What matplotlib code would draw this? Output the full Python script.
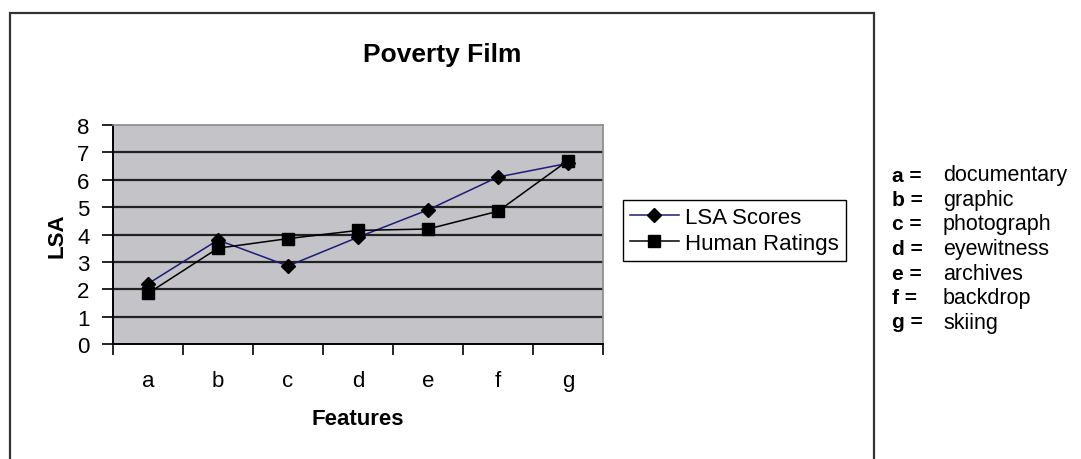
import matplotlib.pyplot as plt
import numpy as np
from matplotlib.patches import Rectangle

plt.rcParams["font.family"] = ["Liberation Sans", "DejaVu Sans"]

features = ["a", "b", "c", "d", "e", "f", "g"]
lsa_scores = [2.2, 3.8, 2.85, 3.9, 4.9, 6.1, 6.6]
human_ratings = [1.85, 3.5, 3.85, 4.15, 4.2, 4.85, 6.7]

feature_names = ["documentary", "graphic", "photograph", "eyewitness",
                 "archives", "backdrop", "skiing"]

W, H = 1081, 460
fig = plt.figure(figsize=(W / 100, H / 100), dpi=100)


def fx(px):
    return px / W


def fy(py):
    return 1 - py / H


# chart frame (open at the bottom, runs off the page)
frame = Rectangle((fx(10), -0.2), fx(874) - fx(10), fy(14) + 0.2,
                  transform=fig.transFigure, fill=False,
                  edgecolor="#333333", linewidth=1.6)
fig.add_artist(frame)

ax = fig.add_axes([fx(113), fy(345), fx(603) - fx(113), fy(126) - fy(345)])
ax.set_facecolor("#c4c3c8")

x = np.arange(len(features))
ax.plot(x, lsa_scores, color="#1c1c78", linewidth=1.1, marker="D",
        markersize=7.5, markerfacecolor="black", markeredgecolor="black",
        label="LSA Scores", zorder=3)
ax.plot(x, human_ratings, color="black", linewidth=1.1, marker="s",
        markersize=8, markerfacecolor="black", markeredgecolor="black",
        label="Human Ratings", zorder=3)

ax.set_xlim(-0.5, len(features) - 0.5)
ax.set_ylim(0, 8)
ax.set_yticks(range(0, 9))
for yv in range(1, 8):
    ax.axhline(yv, color="#222222", linewidth=1.6, zorder=1)

# category labels centred, ticks on category boundaries
ax.set_xticks(x)
ax.set_xticklabels(features)
ax.set_xticks(np.arange(-0.5, len(features)), minor=True)
ax.tick_params(axis="x", which="major", length=0, pad=19, labelsize=16)
ax.tick_params(axis="x", which="minor", length=8, width=1.2, direction="out",
               color="black")
ax.tick_params(axis="y", length=8, width=1.2, direction="out", pad=9,
               labelsize=16)

for side in ("top", "right"):
    ax.spines[side].set_color("#8a8a8a")
    ax.spines[side].set_linewidth(1.2)
for side in ("left", "bottom"):
    ax.spines[side].set_color("black")
    ax.spines[side].set_linewidth(1.4)

ax.set_xlabel("Features", fontsize=16, fontweight="bold", labelpad=12)
ax.set_ylabel("LSA", fontsize=16, fontweight="bold", labelpad=7)

fig.text(fx(442), fy(55), "Poverty Film", ha="center", va="center",
         fontsize=19, fontweight="bold")

leg = ax.legend(loc="upper left", bbox_to_anchor=(fx(623), fy(201)),
                bbox_transform=fig.transFigure, fontsize=16,
                fancybox=False, framealpha=1, edgecolor="black",
                borderpad=0.3, borderaxespad=0, handlelength=2.2,
                handletextpad=0.3, labelspacing=0.25)
leg.get_frame().set_linewidth(1.0)

# key to the feature letters
for i, (letter, name) in enumerate(zip(features, feature_names)):
    y = fy(176 + i * 24.5)
    fig.text(fx(892), y, f"{letter} =", fontsize=15, fontweight="bold",
             va="center")
    fig.text(fx(943), y, name, fontsize=15.5, va="center")

fig.savefig("out.png", dpi=100)
